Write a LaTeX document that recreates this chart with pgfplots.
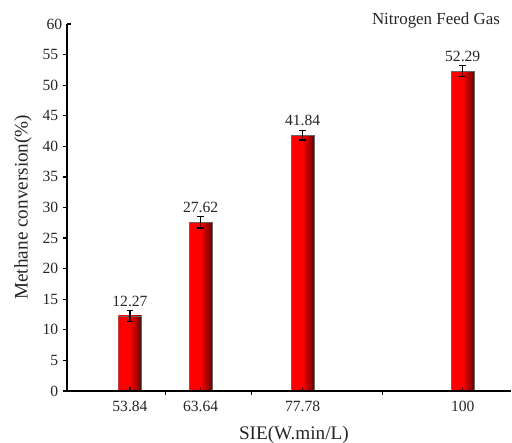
\documentclass[border=0pt]{standalone}
\usepackage{pgfplots}
\pgfplotsset{compat=1.18}
\usepackage{fontspec}
\setmainfont{Liberation Serif}
\usetikzlibrary{calc}
\definecolor{barred}{RGB}{255,0,0}
\definecolor{bardark}{RGB}{105,0,0}
\pgfplotsset{mybar/.style={ybar, bar width=3.2, draw=black!60, line width=0.4pt,
  left color=barred, right color=bardark, middle color=barred,
  error bars/.cd, y dir=both, y explicit,
  error bar style={line width=1pt, black},
  error mark options={rotate=90, mark size=2.6pt, line width=1pt, black}}}
\begin{document}
\begin{tikzpicture}
\begin{axis}[
  scale only axis, width=333pt, height=275.25pt,
  xmin=45.1, xmax=106.7, ymin=0, ymax=60,
  axis x line*=bottom, axis y line*=left,
  axis line style={line width=0.9pt, black},
  every tick/.style={black, line width=0.9pt},
  major tick length=3pt,
  xtick={53.84,63.64,77.78,100},
  xticklabels={53.84,63.64,77.78,100},
  xtick align=inside,
  ytick={0,5,...,55},
  ytick align=outside,
  extra y ticks={60}, extra y tick style={ytick align=inside},
  extra x ticks={58.74,70.71,88.89}, extra x tick labels={},
  extra x tick style={xtick align=outside},
  /pgf/number format/assume math mode=true,
  tick label style={font=\fontsize{11.7}{14}\selectfont, text=black!85},
  xticklabel style={yshift=-4pt},
  xlabel={SIE(W.min/L)},
  ylabel={Methane conversion(\%)},
  label style={font=\fontsize{14.4}{17}\selectfont, text=black!85},
  xlabel style={at={(axis description cs:0.511,-0.1199)}, anchor=center},
  ylabel style={at={(axis description cs:-0.099,0.501)}, anchor=center},
  clip=false,
  axis on top,
  point meta=explicit symbolic,
  nodes near coords,
  every node near coord/.append style={font=\fontsize{11.7}{14}\selectfont, text=black!85, inner sep=0pt, anchor=south, yshift=6.5pt},
]
\addplot[mybar] coordinates {(53.84,12.27) +- (0,0.9) [12.27]};
\addplot[mybar] coordinates {(63.64,27.62) +- (0,0.95) [27.62]};
\addplot[mybar] coordinates {(77.78,41.84) +- (0,0.8) [41.84]};
\addplot[mybar] coordinates {(100,52.29) +- (0,0.9) [52.29]};
\node[font=\fontsize{12.7}{15}\selectfont, text=black!85] at (rel axis cs:0.831,1.011) {Nitrogen Feed Gas};
\coordinate (sw) at (rel axis cs:0,0);
\coordinate (ne) at (rel axis cs:1,1);
\end{axis}
\pgfresetboundingbox
\path ($(sw)+(-50.25pt,-39pt)$) rectangle ($(ne)+(0.75pt,18pt)$);
\end{tikzpicture}
\end{document}
